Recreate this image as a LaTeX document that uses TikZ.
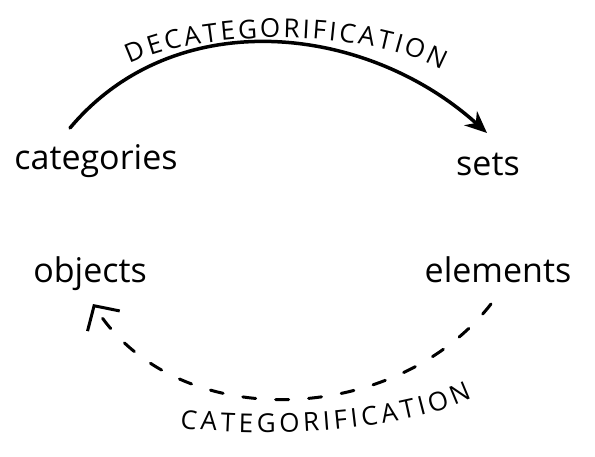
\documentclass[tikz,border=0pt]{standalone}
\usepackage{fontspec}
\setmainfont{Open Sans}
\usetikzlibrary{arrows.meta,decorations.text}
\newcommand{\wordsize}{\fontsize{34}{40}\selectfont}
\newcommand{\capsize}{\fontsize{26}{31}\selectfont}

\begin{document}
\begin{tikzpicture}[x=1pt,y=1pt]
	\tikzstyle{every node}=[inner sep=0pt, anchor=base, font=\wordsize]
	\tikzstyle{caption}=[decorate, decoration={text along path, text align={fit to path}}]
	\useasboundingbox (0,0) rectangle (595,456);
	\node (cat) at (96,286) {categories};
	\node (sets) at (488,280) {sets};
	\node (obj) at (90,174) {objects};
	\node (elem) at (498,174) {elements};
	% decategorification: solid, top
	\draw[line width=3.5pt, line cap=round, -{Stealth[length=22pt,width=19pt,inset=7pt]}] ([shift={(-26,42)}]cat.base) to[out=50,in=138] ([shift={(-1,43)}]sets.base);
	\path[caption, decoration={text={|\capsize|DECATEGORIFICATION}}] (130,392) .. controls (205,428) and (365,428) .. (442,386);
	% categorification: dashed, bottom
	\draw[line width=3pt, line cap=round, dash pattern=on 13pt off 20pt, -{Straight Barb[length=18pt,width=38pt]}] ([shift={(-7,-22)}]elem.base) to[out=232,in=-58] ([shift={(3,-22)}]obj.base);
	\path[caption, decoration={text={|\capsize|CATEGORIFICATION}}] (180,28) .. controls (270,18) and (400,24) .. (472,58);
\end{tikzpicture}
\end{document}
